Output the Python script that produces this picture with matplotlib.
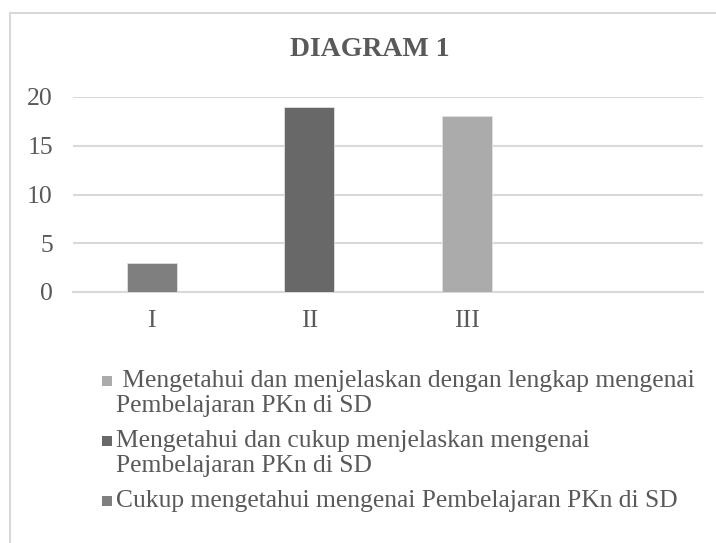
import matplotlib
matplotlib.use("Agg")
import matplotlib.pyplot as plt
from matplotlib.patches import Rectangle

# data
categories = ["I", "II", "III", ""]
values = [3, 19, 18]
bar_colors = ["#7f7f7f", "#686868", "#ababab"]
legend_labels = [
    " Mengetahui dan menjelaskan dengan lengkap mengenai\nPembelajaran PKn di SD",
    "Mengetahui dan cukup menjelaskan mengenai\nPembelajaran PKn di SD",
    "Cukup mengetahui mengenai Pembelajaran PKn di SD",
]
legend_colors = ["#ababab", "#686868", "#7f7f7f"]
yticks = [0, 5, 10, 15, 20]
title = "DIAGRAM 1"

W, H = 716, 543
txt = "#595959"
grid = "#d9d9d9"
plt.rcParams["font.family"] = ["Liberation Serif", "DejaVu Serif"]

fig = plt.figure(figsize=(W / 100, H / 100), dpi=100)
ax = fig.add_axes([73 / W, 1 - 292 / H, (703 - 73) / W, (292 - 97) / H])

x = list(range(len(values)))
ax.bar(x, values, width=0.32, color=bar_colors, edgecolor="#e0e0e0", linewidth=0.6, zorder=3)
ax.set_xlim(-0.5, len(categories) - 0.5)
ax.set_ylim(0, 20)
ax.set_yticks(yticks)
ax.set_yticklabels([str(v) for v in yticks])
ax.set_xticks(range(len(categories)))
ax.set_xticklabels(categories)
ax.yaxis.grid(True, color=grid, linewidth=1.5, zorder=0)
ax.set_axisbelow(True)
for s in ["top", "right", "left"]:
    ax.spines[s].set_visible(False)
ax.spines["bottom"].set_color(grid)
ax.spines["bottom"].set_linewidth(1.5)
ax.tick_params(axis="both", length=0, colors=txt, labelsize=18.5)
ax.tick_params(axis="y", pad=14.5)
ax.tick_params(axis="x", pad=13)

fig.text(370 / W, 1 - 49 / H, title, ha="center", va="center", fontsize=20,
         fontweight="bold", color=txt)

# legend (manual, marker aligned with first line)
tops = [375, 435, 495]
for lab, col, top in zip(legend_labels, legend_colors, tops):
    fig.patches.append(Rectangle((102 / W, 1 - (top + 11) / H), 10 / W, 10 / H,
                                 transform=fig.transFigure, facecolor=col,
                                 edgecolor="none"))
    fig.text(116 / W, 1 - (top - 5) / H, lab, ha="left", va="top", fontsize=18.4,
             color=txt, linespacing=1.17)

# chart border
fig.patches.append(Rectangle((10 / W, -0.05), 1.1, 1 - 13 / H + 0.05,
                             transform=fig.transFigure, facecolor="none",
                             edgecolor=grid, linewidth=1.5))

fig.savefig("out.png", dpi=100)
